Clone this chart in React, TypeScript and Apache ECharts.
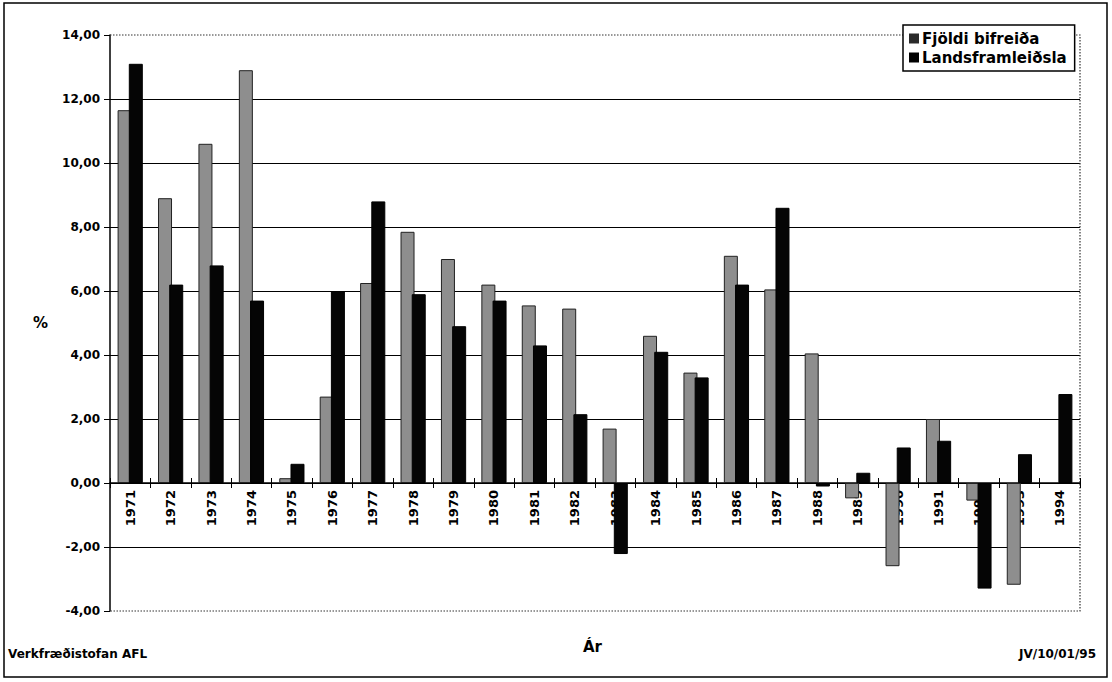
import React, { useEffect, useRef } from "react";
import * as echarts from "echarts";

const years = [
  "1971", "1972", "1973", "1974", "1975", "1976", "1977", "1978", "1979", "1980", "1981", "1982",
  "1983", "1984", "1985", "1986", "1987", "1988", "1989", "1990", "1991", "1992", "1993", "1994",
];
const fjoldiBifreida = [
  11.65, 8.9, 10.6, 12.9, 0.15, 2.7, 6.25, 7.85, 7.0, 6.2, 5.55, 5.45,
  1.7, 4.6, 3.45, 7.1, 6.05, 4.05, -0.48, -2.6, 2.0, -0.55, -3.18, null,
];
const landsframleidsla = [
  13.1, 6.2, 6.8, 5.7, 0.6, 6.0, 8.8, 5.9, 4.9, 5.7, 4.3, 2.15,
  -2.22, 4.1, 3.3, 6.2, 8.6, -0.11, 0.32, 1.11, 1.32, -3.3, 0.9, 2.78,
];
const seriesNames = ["Fjöldi bifreiða", "Landsframleiðsla"];
const yTicks = { min: -4, max: 14, interval: 2 };

const FONT = "'DejaVu Sans', 'Liberation Sans', Arial, sans-serif";

export default function App() {
  const ref = useRef<HTMLDivElement>(null);
  useEffect(() => {
    const chart = echarts.init(ref.current!, null, { renderer: "svg" });
    const gl = 110, gt = 35, gw = 970, gh = 576;
    // distance from bottom of grid to the zero line (axis placed on zero)
    const zeroOffset = -gh * (0 - yTicks.min) / (yTicks.max - yTicks.min);
    chart.setOption({
      animation: false,
      backgroundColor: "#ffffff",
      textStyle: { fontFamily: FONT },
      grid: { left: gl, top: gt, width: gw, height: gh, containLabel: false, outerBoundsMode: "none" },
      legend: {
        orient: "vertical",
        left: 903,
        top: 25,
        padding: [6, 8, 6, 6],
        itemGap: 4,
        itemWidth: 10,
        itemHeight: 10,
        icon: "rect",
        borderColor: "#000",
        borderWidth: 1.5,
        backgroundColor: "#fff",
        textStyle: { fontFamily: FONT, fontWeight: "bold", fontSize: 15, color: "#000", padding: [0, 0, 0, -2] },
        data: [
          { name: seriesNames[0], itemStyle: { color: "#2a2a2a", borderWidth: 0 } },
          { name: seriesNames[1], itemStyle: { color: "#000", borderWidth: 0 } },
        ],
      },
      xAxis: [
        {
          type: "category",
          data: years,
          position: "bottom",
          offset: zeroOffset,
          axisLine: { onZero: false, lineStyle: { color: "#000", width: 1.5 } },
          axisTick: { show: true, length: 5, lineStyle: { color: "#000" } },
          axisLabel: {
            rotate: 90,
            margin: 7,
            fontFamily: FONT,
            fontWeight: "bold",
            fontSize: 13,
            color: "#000",
          },
          z: 1,
        },
        {
          type: "category",
          data: years,
          position: "bottom",
          offset: zeroOffset,
          axisLine: { show: false, onZero: false },
          axisTick: { show: true, inside: true, length: 5, lineStyle: { color: "#000" } },
          axisLabel: { show: false },
          z: 1,
        },
      ],
      yAxis: {
        type: "value",
        min: yTicks.min,
        max: yTicks.max,
        interval: yTicks.interval,
        axisLine: { show: true, lineStyle: { color: "#000", width: 1.5 } },
        axisTick: { show: true, length: 6, lineStyle: { color: "#000" } },
        axisLabel: {
          formatter: (v: number) => v.toFixed(2).replace(".", ","),
          fontFamily: FONT,
          fontWeight: "bold",
          fontSize: 12,
          color: "#000",
          margin: 10,
        },
        splitLine: {
          show: true,
          showMinLine: false,
          showMaxLine: false,
          lineStyle: { color: "#000", width: 1 },
        },
        name: "%",
        nameLocation: "middle",
        nameGap: 62,
        nameRotate: 0,
        nameTextStyle: { fontFamily: FONT, fontWeight: "bold", fontSize: 15, color: "#000" },
      },
      series: [
        {
          name: seriesNames[0],
          type: "bar",
          data: fjoldiBifreida,
          barWidth: 14,
          barGap: "-20%",
          z: 3,
          itemStyle: { color: "#8e8e8e", borderColor: "#222", borderWidth: 1 },
        },
        {
          name: seriesNames[1],
          type: "bar",
          data: landsframleidsla,
          barWidth: 14,
          z: 3,
          itemStyle: { color: "#050505", borderColor: "#000", borderWidth: 1 },
        },
      ],
      graphic: [
        {
          type: "rect",
          shape: { x: 4, y: 3, width: 1103, height: 674 },
          style: { fill: "none", stroke: "#000", lineWidth: 1.5 },
          silent: true,
          z: -1,
        },
        {
          type: "polyline",
          shape: { points: [[gl, gt], [gl + gw, gt], [gl + gw, gt + gh], [gl, gt + gh]] },
          style: { fill: "none", stroke: "#333", lineWidth: 1.2, lineDash: [1.5, 1.5] },
          silent: true,
          z: 1,
        },
        {
          type: "text",
          left: 583,
          top: 639,
          style: { text: "Ár", font: `bold 15px ${FONT}`, fill: "#000" },
        },
        {
          type: "text",
          left: 8,
          top: 648,
          style: { text: "Verkfræðistofan AFL", font: `bold 12px ${FONT}`, fill: "#000" },
        },
        {
          type: "text",
          right: 16,
          top: 648,
          style: { text: "JV/10/01/95", font: `bold 12px ${FONT}`, fill: "#000" },
        },
      ],
    });
    return () => chart.dispose();
  }, []);
  return <div ref={ref} style={{ width: 1112, height: 682, position: "absolute", left: 0, top: 0 }} />;
}
